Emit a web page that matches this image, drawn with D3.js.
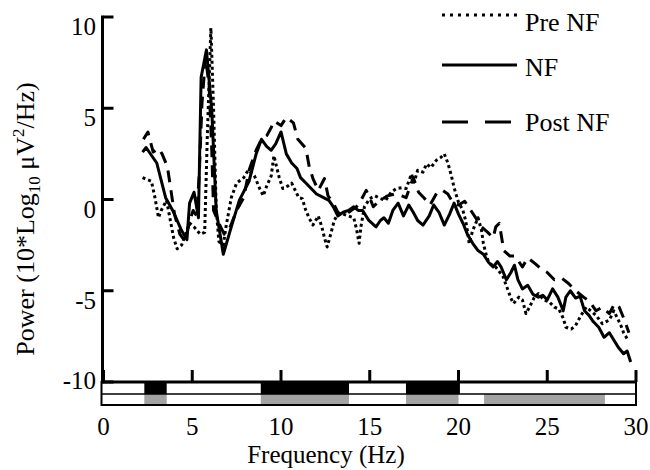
<!DOCTYPE html>
<html>
<head>
<meta charset="utf-8">
<script src="https://cdn.jsdelivr.net/npm/d3@7"></script>
<style>
  html, body { margin: 0; padding: 0; background: #fff; }
  svg { display: block; font-family: "Liberation Serif", "Times New Roman", serif; }
</style>
</head>
<body>
<svg id="chart"></svg>
<script>
// Power spectrum, three sessions (Pre NF / NF / Post NF), with band markers under the axis.

// [frequency Hz, power dB]
const preNF = [
  [2.2,1.2],[2.7,1.0],[2.9,0.1],[3.1,-1.0],[3.25,-0.6],[3.55,-0.05],[3.7,-0.8],[3.95,-2.1],
  [4.15,-2.7],[4.4,-2.5],[4.85,-1.3],[5.1,-1.5],[5.45,-1.9],[5.7,-1.8],[5.85,3.5],[6.05,9.4],
  [6.2,5.0],[6.35,-0.5],[6.5,-2.3],[6.75,-2.5],[6.9,-1.5],[7.2,0.1],[7.5,0.9],[7.9,1.2],
  [8.15,1.6],[8.5,1.3],[8.8,0.6],[9.0,0.2],[9.2,0.75],[9.45,1.3],[9.6,2.4],[9.7,2.0],
  [9.9,1.2],[10.1,0.6],[10.4,0.75],[10.6,0.9],[10.85,0.4],[11.0,0.1],[11.2,0.05],[11.4,-0.6],
  [11.6,-1.05],[11.8,-1.4],[12.1,-0.9],[12.3,-1.5],[12.45,-2.1],[12.6,-2.6],[12.8,-1.9],[13.0,-1.15],
  [13.2,-0.8],[13.5,-0.8],[13.8,-0.9],[14.1,-1.0],[14.25,-1.6],[14.4,-2.4],[14.5,-1.5],[14.7,-0.4],
  [15.0,0.05],[15.3,0.2],[15.6,0.05],[15.9,-0.05],[16.2,0.4],[16.5,0.6],[16.8,0.65],[17.05,0.6],
  [17.35,1.4],[17.5,0.95],[17.7,1.6],[18.0,1.5],[18.2,1.95],[18.45,1.75],[18.75,2.15],[19.0,2.3],
  [19.2,2.5],[19.4,2.0],[19.6,1.3],[19.75,0.65],[20.0,-0.15],[20.25,-0.6],[20.4,-1.15],[20.5,-1.7],
  [20.6,-2.4],[20.8,-1.7],[21.1,-1.0],[21.3,-1.7],[21.4,-2.4],[21.55,-3.0],[21.7,-3.45],[21.9,-3.6],
  [22.1,-3.7],[22.5,-4.2],[22.8,-5.0],[22.95,-5.4],[23.1,-5.7],[23.4,-5.35],[23.6,-5.5],[23.8,-6.25],
  [24.0,-5.9],[24.25,-5.4],[24.5,-5.15],[24.8,-5.5],[25.1,-5.6],[25.4,-5.9],[25.65,-6.0],[25.9,-6.5],
  [26.05,-7.0],[26.35,-7.1],[26.6,-6.9],[26.9,-6.35],[27.2,-5.9],[27.45,-6.1],[27.75,-6.35],[28.1,-6.8],
  [28.5,-6.6],[28.75,-6.1],[29.0,-6.6],[29.15,-6.9],[29.3,-7.3],[29.55,-7.7]
];

const duringNF = [
  [2.2,2.6],[2.4,2.85],[3.0,2.0],[3.5,0.1],[3.9,-0.6],[4.4,-1.7],[4.7,-2.2],[4.85,-0.2],
  [5.1,0.4],[5.35,-1.0],[5.5,6.7],[5.8,8.2],[6.1,4.9],[6.35,-0.6],[6.75,-3.0],[7.2,-1.5],
  [7.65,-0.05],[8.2,1.0],[8.6,2.5],[8.9,3.3],[9.2,2.9],[9.45,2.7],[9.7,3.05],[10.0,3.7],
  [10.3,2.5],[10.6,2.0],[10.9,1.7],[11.1,1.2],[11.4,0.9],[11.7,0.6],[12.0,0.3],[12.4,0.1],
  [12.7,-0.05],[12.95,-0.4],[13.2,-0.9],[13.5,-0.7],[13.8,-0.6],[14.1,-0.4],[14.35,-0.6],[14.6,-0.6],
  [14.95,-1.15],[15.35,-1.5],[15.6,-1.15],[15.8,-1.0],[16.05,-1.3],[16.3,-0.6],[16.6,-0.2],[16.9,-0.9],
  [17.2,-0.3],[17.45,-0.7],[17.7,-1.15],[18.0,-1.4],[18.35,-0.9],[18.6,-0.3],[18.9,-0.7],[19.2,-1.4],
  [19.5,-0.8],[19.75,-0.2],[20.0,-0.8],[20.25,-1.3],[20.5,-1.9],[20.8,-2.4],[21.1,-2.8],[21.4,-3.0],
  [21.7,-3.45],[21.95,-3.7],[22.2,-3.4],[22.4,-3.7],[22.7,-4.4],[22.95,-4.0],[23.15,-3.6],[23.35,-4.4],
  [23.6,-4.9],[23.9,-4.7],[24.2,-5.2],[24.5,-5.35],[24.75,-5.25],[25.0,-5.5],[25.3,-4.9],[25.6,-5.35],
  [25.9,-6.1],[26.05,-5.35],[26.3,-5.0],[26.6,-5.4],[26.85,-5.3],[27.1,-6.1],[27.35,-6.35],[27.6,-6.7],
  [27.9,-7.0],[28.2,-7.55],[28.5,-7.3],[28.75,-7.7],[29.0,-8.1],[29.3,-8.45],[29.5,-8.3],[29.7,-8.9]
];

const postNF = [
  [2.25,3.3],[2.5,3.7],[2.8,2.6],[3.1,2.8],[3.3,2.5],[3.6,1.8],[3.8,0.5],[4.0,-0.8],
  [4.3,-1.9],[4.6,-2.3],[4.85,-1.2],[5.05,-0.6],[5.25,-0.9],[5.4,1.5],[5.55,5.3],[5.75,7.8],
  [5.95,6.2],[6.1,2.7],[6.2,-0.6],[6.5,-1.3],[6.8,-1.9],[7.1,-1.6],[7.5,-0.6],[7.9,0.1],
  [8.2,1.6],[8.6,2.7],[8.9,3.3],[9.2,3.5],[9.45,3.95],[9.6,4.3],[10.0,4.05],[10.3,4.5],
  [10.7,4.2],[10.95,3.3],[11.4,2.8],[11.6,1.75],[11.8,1.15],[12.1,0.5],[12.45,1.15],[12.65,0.2],
  [12.95,-0.2],[13.2,-0.7],[13.55,-0.9],[13.95,-0.6],[14.25,-0.4],[14.5,-0.05],[14.8,0.5],[15.0,0.1],
  [15.2,-0.4],[15.5,-0.1],[16.0,0.2],[16.4,0.3],[16.8,0.2],[17.05,0.1],[17.45,1.2],[17.75,0.4],
  [18.05,0.1],[18.4,-0.3],[18.8,0.4],[19.1,0.5],[19.4,0.3],[19.7,-0.2],[20.0,-0.3],[20.35,-0.1],
  [20.7,-0.6],[21.0,-1.05],[21.3,-1.5],[21.65,-1.8],[21.95,-2.1],[22.1,-1.5],[22.3,-1.3],[22.55,-2.8],
  [22.9,-3.1],[23.2,-3.1],[23.6,-3.7],[23.9,-3.2],[24.3,-3.5],[24.65,-3.8],[25.0,-4.0],[25.4,-4.4],
  [25.8,-4.3],[26.2,-4.6],[26.6,-5.0],[27.05,-5.35],[27.4,-5.6],[27.75,-6.1],[28.1,-5.9],[28.5,-6.25],
  [28.8,-5.7],[29.05,-5.9],[29.35,-6.6],[29.6,-7.3]
];

// bands marked under the axis [start Hz, end Hz]
const blackBands = [[2.3, 3.56], [8.86, 13.83], [17.04, 20.08]];
const grayBands  = [[2.3, 3.56], [8.86, 13.83], [17.04, 20.0], [21.44, 28.25]];

const xTicks = [0, 5, 10, 15, 20, 25, 30];
const yTicks = [-10, -5, 0, 5, 10];
const seriesNames = ["Pre NF", "NF", "Post NF"];

(function () {
  const W = 650, H = 470;
  const FONT = 25;

  const svg = d3.select("#chart").attr("width", W).attr("height", H);

  const x = d3.scaleLinear().domain([0, 30]).range([103.5, 636]);
  const y = d3.scaleLinear().domain([-10, 10]).range([382, 17]);

  const line = d3.line().x(d => x(d[0])).y(d => y(d[1]));

  // three spectra
  const styles = [
    { data: preNF,    dash: "3,3",  legendDash: "3,5" },
    { data: duringNF, dash: null,   legendDash: null },
    { data: postNF,   dash: "12,8", legendDash: "26,17" }
  ];

  styles.forEach(s => {
    svg.append("path")
      .attr("d", line(s.data))
      .attr("fill", "none")
      .attr("stroke", "#000")
      .attr("stroke-width", 3)
      .attr("stroke-linejoin", "round")
      .attr("stroke-dasharray", s.dash);
  });

  // band boxes below the x axis
  const boxTop = y(-10), boxMid = 394, boxBot = 405;
  svg.append("g").selectAll("rect.black").data(blackBands).enter()
    .append("rect")
    .attr("x", d => x(d[0])).attr("width", d => x(d[1]) - x(d[0]))
    .attr("y", boxTop).attr("height", boxMid - boxTop)
    .attr("fill", "#000");
  svg.append("g").selectAll("rect.gray").data(grayBands).enter()
    .append("rect")
    .attr("x", d => x(d[0])).attr("width", d => x(d[1]) - x(d[0]))
    .attr("y", boxMid).attr("height", boxBot - boxMid)
    .attr("fill", "#a3a3a3");
  svg.append("rect")
    .attr("x", x(0) - 2).attr("y", boxTop)
    .attr("width", x(30) - x(0) + 2).attr("height", boxBot - boxTop)
    .attr("fill", "none").attr("stroke", "#000").attr("stroke-width", 2);
  svg.append("line")
    .attr("x1", x(0) - 2).attr("x2", x(30))
    .attr("y1", boxMid).attr("y2", boxMid)
    .attr("stroke", "#000").attr("stroke-width", 1.5);

  // axes
  svg.append("line")
    .attr("x1", x(0) - 1).attr("x2", x(0) - 1)
    .attr("y1", y(10) - 1.5).attr("y2", y(-10) + 1.5)
    .attr("stroke", "#000").attr("stroke-width", 3);
  svg.append("line")
    .attr("x1", x(0) - 2.5).attr("x2", x(30) + 1)
    .attr("y1", y(-10)).attr("y2", y(-10))
    .attr("stroke", "#000").attr("stroke-width", 3);

  svg.append("g").selectAll("line").data(yTicks).enter()
    .append("line")
    .attr("x1", x(0)).attr("x2", x(0) + 10)
    .attr("y1", d => y(d)).attr("y2", d => y(d))
    .attr("stroke", "#000").attr("stroke-width", 3);
  svg.append("g").selectAll("line").data(xTicks).enter()
    .append("line")
    .attr("x1", d => x(d)).attr("x2", d => x(d))
    .attr("y1", y(-10)).attr("y2", y(-10) - 12)
    .attr("stroke", "#000").attr("stroke-width", 3);

  // tick labels: y labels hang just below their tick
  svg.append("g").selectAll("text").data(yTicks).enter()
    .append("text")
    .attr("x", 96)
    .attr("y", d => Math.min(y(d) + 18, 389))
    .attr("text-anchor", "end")
    .attr("font-size", FONT)
    .text(d => d);
  svg.append("g").selectAll("text").data(xTicks).enter()
    .append("text")
    .attr("x", d => x(d)).attr("y", 435)
    .attr("text-anchor", "middle")
    .attr("font-size", FONT)
    .text(d => d);

  // axis titles
  svg.append("text")
    .attr("x", 326).attr("y", 463)
    .attr("text-anchor", "middle")
    .attr("font-size", 25)
    .text("Frequency (Hz)");

  const yl = svg.append("text")
    .attr("transform", "translate(34,219) rotate(-90)")
    .attr("text-anchor", "middle")
    .attr("font-size", 26);
  yl.append("tspan").text("Power (10*Log");
  yl.append("tspan").attr("font-size", 17).attr("dy", 6).text("10");
  yl.append("tspan").attr("dy", -6).text(" μV");
  yl.append("tspan").attr("font-size", 17).attr("dy", -10).text("2");
  yl.append("tspan").attr("dy", 10).text("/Hz)");

  // legend
  const legendY = [15, 65, 122];
  const legendTextY = [31, 76, 131];
  seriesNames.forEach((name, i) => {
    svg.append("line")
      .attr("x1", 442).attr("x2", 517)
      .attr("y1", legendY[i]).attr("y2", legendY[i])
      .attr("stroke", "#000").attr("stroke-width", 3)
      .attr("stroke-dasharray", styles[i].legendDash);
    svg.append("text")
      .attr("x", 525).attr("y", legendTextY[i])
      .attr("font-size", 26)
      .text(name);
  });
})();
</script>
</body>
</html>
